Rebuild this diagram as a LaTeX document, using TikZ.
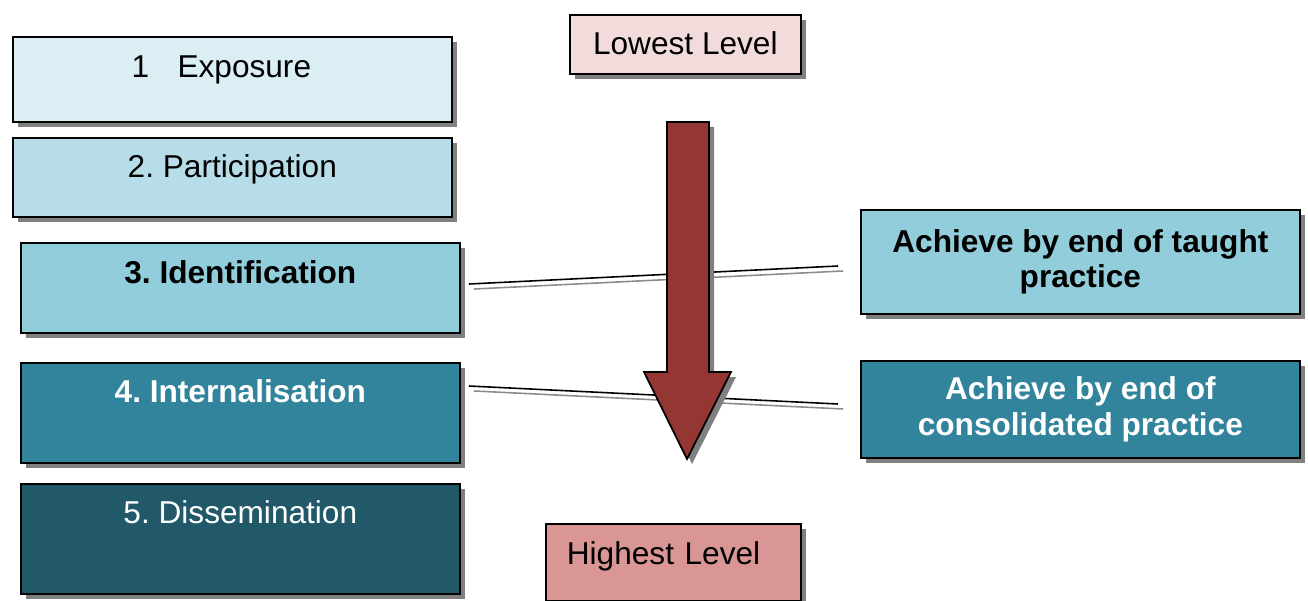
\documentclass[tikz,border=0pt]{standalone}
\usepackage{fontspec}
\setmainfont{Liberation Sans}
\usetikzlibrary{shadows}
\frenchspacing
\definecolor{expocol}{HTML}{DAEEF3}
\definecolor{particcol}{HTML}{B7DEE8}
\definecolor{identcol}{HTML}{92CDDC}
\definecolor{interncol}{HTML}{31849B}
\definecolor{dissemcol}{HTML}{215968}
\definecolor{lowcol}{HTML}{F2DCDB}
\definecolor{highcol}{HTML}{D99694}
\definecolor{arrowcol}{HTML}{943634}
\tikzset{
	boxshadow/.style={drop shadow={shadow xshift=0.1cm, shadow yshift=-0.1cm, fill=black!50, opacity=1}},
	levelbox/.style={draw=black, line width=1pt, rectangle, anchor=north west, inner xsep=0pt, inner ysep=0pt, minimum width=8.78cm, font=\fontsize{18}{20}\selectfont, boxshadow},
	linkline/.style={line width=0.9pt},
	linkshadow/.style={line width=0.9pt, black!45}
}

\begin{document}
\begin{tikzpicture}[x=0.02cm, y=-0.02cm]
		\useasboundingbox (0,0) rectangle (1308,601);
		\node[levelbox, fill=expocol, text height=0.82cm, text depth=0.88cm] (exposure) at (12,36) {1\hspace{0.9em}Exposure\kern0.44cm};
		\node[levelbox, fill=particcol, text height=0.80cm, text depth=0.78cm] (participation) at (12,137) {2. Participation};
		\node[levelbox, fill=identcol, text height=0.82cm, text depth=0.98cm, font=\fontsize{18}{20}\selectfont\bfseries] (identification) at (20,242) {3. Identification};
		\node[levelbox, fill=interncol, text=white, text height=0.80cm, text depth=1.20cm, font=\fontsize{18}{20}\selectfont\bfseries] (internalisation) at (20,362) {4. Internalisation};
		\node[levelbox, fill=dissemcol, text=white, text height=0.80cm, text depth=1.40cm] (dissemination) at (20,483) {5. Dissemination};
		\node[levelbox, fill=lowcol, minimum width=4.62cm, text height=0.80cm, text depth=0.38cm] (lowest) at (569,14) {Lowest Level};
		\node[levelbox, fill=highcol, minimum width=5.10cm, text width=4.26cm, inner xsep=0.42cm, align=left, text height=0.82cm, text depth=0.72cm] (highest) at (545,523) {Highest Level};
		\node[levelbox, fill=identcol, minimum height=2.08cm, align=center, font=\fontsize{18}{20}\selectfont\bfseries] (taught) at (860,209) {Achieve by end of taught\\practice};
		\node[levelbox, fill=interncol, text=white, minimum height=1.94cm, align=center, font=\fontsize{18}{20}\selectfont\bfseries] (consolidated) at (860,360) {Achieve by end of\\consolidated practice};
		\coordinate (identend) at (469,284);
		\coordinate (taughtend) at (838,266);
		\coordinate (internend) at (469,386);
		\coordinate (consolend) at (838,404);
		\draw[linkshadow] ([shift={(5,5)}]identend) -- ([shift={(5,5)}]taughtend);
		\draw[linkline] (identend) -- (taughtend);
		\draw[linkshadow] ([shift={(5,5)}]internend) -- ([shift={(5,5)}]consolend);
		\draw[linkline] (internend) -- (consolend);
		\draw[line width=1pt, fill=arrowcol, boxshadow] (667,122) -- (709,122) -- (709,372) -- (731,372) -- (687,459) -- (644,372) -- (667,372) -- cycle;
\end{tikzpicture}
\end{document}
